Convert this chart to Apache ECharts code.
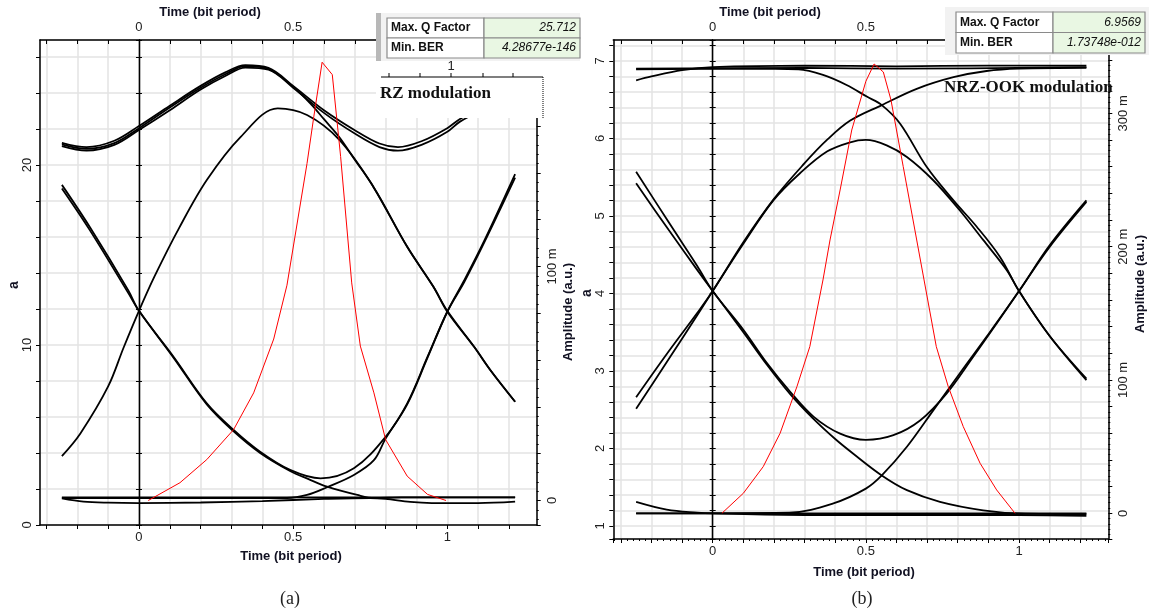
<!DOCTYPE html>
<html><head><meta charset="utf-8">
<script src="https://cdn.jsdelivr.net/npm/echarts@6/dist/echarts.min.js"></script>
<style>html,body{margin:0;padding:0;background:#fff}#c{width:1149px;height:614px}</style>
</head><body><div id="c"></div>
<script>
// ---------------- Panel (a): RZ modulation eye diagram ----------------
const rzTop1 = [[-0.25,21.24],[-0.17,21.0],[-0.08,21.35],[0,22.17],[0.1,23.3],[0.2,24.4],[0.28,25.15],[0.345,25.55],[0.42,25.4],[0.5,24.4],[0.6,23.05],[0.7,21.94],[0.78,21.2],[0.84,21.0],[0.92,21.35],[1.0,22.05],[1.04,22.55],[1.12,23.3],[1.22,24.0]];
const rzTop2 = [[-0.25,21.05],[-0.17,20.8],[-0.08,21.12],[0,21.95],[0.1,23.05],[0.2,24.2],[0.28,24.95],[0.345,25.42],[0.42,25.3],[0.5,24.3],[0.6,22.9],[0.7,21.75],[0.78,21.0],[0.84,20.8],[0.92,21.15],[1.0,21.85],[1.04,22.4],[1.12,23.1],[1.22,23.8]];
const rzTopFall = [[-0.25,21.15],[-0.17,20.9],[-0.08,21.22],[0,22.05],[0.1,23.2],[0.2,24.3],[0.28,25.05],[0.345,25.5],[0.42,25.35],[0.5,24.35],[0.56,23.35],[0.6,22.55],[0.65,21.55],[0.7,20.3],[0.76,18.8],[0.87,15.46],[0.955,13.24],[1.0,11.9],[1.087,9.9],[1.14,8.6],[1.22,6.85]];
const rzPulse = [[-0.25,3.83],[-0.19,5.09],[-0.1,7.7],[-0.05,9.85],[0,11.9],[0.05,13.8],[0.13,16.5],[0.22,19.17],[0.33,21.57],[0.45,23.15],[0.545,22.78],[0.65,21.4],[0.76,18.8],[0.87,15.46],[0.955,13.24],[1.0,11.85],[1.087,9.9],[1.14,8.6],[1.22,6.85]];
const rzDip = [[-0.25,18.9],[-0.16,16.57],[-0.035,13.05],[0,11.9],[0.112,9.35],[0.22,6.76],[0.307,5.28],[0.393,4.07],[0.49,3.06],[0.589,2.59],[0.697,3.15],[0.8,4.9],[0.87,6.76],[0.936,9.35],[1.0,11.85],[1.055,13.6],[1.12,15.8],[1.22,19.5]];
const rzFall = [[-0.25,18.7],[-0.16,16.4],[-0.035,12.9],[0,11.9],[0.112,9.3],[0.22,6.7],[0.307,5.2],[0.393,4.0],[0.49,3.0],[0.55,2.55],[0.61,2.13],[0.708,1.67],[0.762,1.5],[0.85,1.53],[1.0,1.54],[1.22,1.54]];
const rzRise = [[-0.25,1.5],[0.2,1.5],[0.48,1.5],[0.545,1.67],[0.61,2.1],[0.697,2.78],[0.762,3.6],[0.8,4.8],[0.87,6.7],[0.936,9.3],[1.0,11.85],[1.055,13.5],[1.12,15.7],[1.22,19.3]];
const rzZero1 = [[-0.25,1.54],[1.22,1.54]];
const rzZero2 = [[-0.25,1.48],[-0.18,1.3],[-0.1,1.24],[0,1.22],[0.2,1.25],[0.4,1.33],[0.6,1.45],[0.75,1.5],[0.8,1.45],[0.88,1.28],[0.95,1.22],[1.1,1.22],[1.22,1.3]];
const rzPower = [[0.03,0],[0.133,0.0076],[0.22,0.0175],[0.307,0.0303],[0.372,0.046],[0.437,0.069],[0.48,0.092],[0.545,0.144],[0.567,0.164],[0.594,0.1873],[0.627,0.182],[0.654,0.147],[0.69,0.093],[0.718,0.066],[0.762,0.046],[0.8,0.026],[0.87,0.0104],[0.936,0.0026],[0.996,0]];

// ---------------- Panel (b): NRZ-OOK modulation eye diagram ----------------
const nrzOne1 = [[-0.25,6.9],[0.3,6.91],[0.6,6.9],[1.22,6.92]];
const nrzOne2 = [[-0.25,6.75],[-0.2,6.8],[-0.1,6.88],[0,6.92],[0.3,6.94],[0.6,6.93],[0.9,6.94],[1.22,6.94]];
const nrzFallTop = [[-0.25,6.89],[0.1,6.9],[0.28,6.89],[0.36,6.82],[0.437,6.69],[0.503,6.54],[0.552,6.43],[0.612,6.19],[0.699,5.63],[0.786,5.2],[0.862,4.86],[0.938,4.47],[1.0,4.03],[1.1,3.45],[1.22,2.88]];
const nrzPulse = [[-0.25,2.51],[-0.144,3.15],[-0.05,3.72],[0,4.03],[0.1,4.64],[0.198,5.2],[0.285,5.55],[0.373,5.83],[0.449,5.95],[0.5,5.98],[0.568,5.91],[0.634,5.76],[0.72,5.46],[0.807,5.07],[0.883,4.69],[0.96,4.3],[1.0,4.03],[1.1,3.45],[1.22,2.9]];
const nrzRise = [[-0.25,2.66],[-0.144,3.25],[-0.05,3.75],[0,4.03],[0.1,4.66],[0.2,5.22],[0.3,5.68],[0.373,5.98],[0.449,6.23],[0.552,6.43],[0.666,6.64],[0.786,6.79],[0.894,6.87],[1.0,6.9],[1.22,6.91]];
const nrzDip = [[-0.25,5.57],[-0.144,4.92],[-0.05,4.35],[0,4.03],[0.1,3.53],[0.177,3.1],[0.253,2.73],[0.329,2.41],[0.416,2.19],[0.5,2.11],[0.59,2.17],[0.677,2.36],[0.764,2.71],[0.85,3.18],[0.927,3.61],[1.0,4.03],[1.1,4.6],[1.22,5.18]];
const nrzFall = [[-0.25,5.42],[-0.144,4.82],[-0.05,4.3],[0,4.03],[0.1,3.5],[0.177,3.08],[0.253,2.7],[0.329,2.38],[0.4,2.12],[0.459,1.93],[0.552,1.65],[0.634,1.46],[0.742,1.31],[0.883,1.2],[1.0,1.16],[1.22,1.15]];
const nrzRiseLow = [[-0.25,1.16],[0.25,1.17],[0.394,1.29],[0.5,1.48],[0.552,1.65],[0.634,2.02],[0.72,2.49],[0.807,2.97],[0.894,3.44],[1.0,4.03],[1.1,4.62],[1.22,5.2]];
const nrzZero1 = [[-0.25,1.16],[1.22,1.16]];
const nrzZero2 = [[-0.25,1.31],[-0.15,1.21],[-0.05,1.17],[0,1.16],[0.3,1.14],[0.7,1.14],[1.0,1.14],[1.22,1.13]];
const nrzPower = [[0.03,0],[0.1,0.015],[0.165,0.035],[0.22,0.06],[0.275,0.095],[0.317,0.125],[0.36,0.175],[0.383,0.205],[0.416,0.2425],[0.454,0.2875],[0.5,0.324],[0.527,0.337],[0.557,0.331],[0.582,0.31],[0.622,0.26],[0.66,0.2125],[0.69,0.175],[0.73,0.125],[0.769,0.095],[0.818,0.065],[0.873,0.0375],[0.927,0.0175],[0.987,0]];

// ---------------- tick labels / texts ----------------
const timeLabels = [0, 0.5, 1];
const rzLeftLabels = [0, 10, 20];
const nrzLeftLabels = [1, 2, 3, 4, 5, 6, 7];
const ampLabelsA = [[0, '0'], [0.1, '100 m']];
const ampLabelsB = [[0, '0'], [0.1, '100 m'], [0.2, '200 m'], [0.3, '300 m']];
const tableA = [['Max. Q Factor', '25.712'], ['Min. BER', '4.28677e-146']];
const tableB = [['Max. Q Factor', '6.9569'], ['Min. BER', '1.73748e-012']];
const timeTitle = 'Time (bit period)';
const ampTitle = 'Amplitude (a.u.)';

const SANS = '"Liberation Sans", Arial, sans-serif';
const SERIF = '"Liberation Serif", "Times New Roman", serif';
const near = (v, arr) => arr.some(a => Math.abs(v - a) < 1e-6);

function xAx(grid, pos, min, max, showSplit, minor) {
  return {
    type: 'value', gridIndex: grid, position: pos, min: min, max: max, splitNumber: 16,
    axisLine: { show: true, onZero: false, lineStyle: { color: '#000', width: 1.5 } },
    axisTick: { show: true, inside: pos === 'top', length: 4, lineStyle: { color: '#000' } },
    minorTick: { show: !!minor, splitNumber: 5, length: 2, lineStyle: { color: '#000' } },
    axisLabel: { show: true, margin: 6, fontFamily: SANS, fontSize: 13, color: '#222', showMinLabel: false, showMaxLabel: false,
      formatter: v => near(v, timeLabels) ? String(Math.round(v * 10) / 10) : '' },
    splitLine: { show: showSplit, lineStyle: { color: '#e3e3e3', width: 1.5 } }
  };
}
function yLeft(grid, min, max, extra, labels) {
  return Object.assign({
    type: 'value', gridIndex: grid, position: 'left', min: min, max: max,
    axisLine: { show: true, onZero: false, lineStyle: { color: '#000', width: 1.5 } },
    axisTick: { show: true, length: 4, lineStyle: { color: '#000' } },
    axisLabel: { show: true, rotate: 90, margin: 6, fontFamily: SANS, fontSize: 13, color: '#222', showMinLabel: true, showMaxLabel: false,
      formatter: v => near(v, labels) ? String(Math.round(v)) : '' },
    splitLine: { show: true, lineStyle: { color: '#e3e3e3', width: 1.5 } }
  }, extra);
}
function yZero(grid, min, max, extra, inside) {
  return Object.assign({
    type: 'value', gridIndex: grid, position: 'left', min: min, max: max,
    axisLine: { show: true, onZero: true, lineStyle: { color: '#000', width: 1.3 } },
    axisTick: { show: true, inside: inside, length: 3, lineStyle: { color: '#000' } },
    axisLabel: { show: false }, splitLine: { show: false }
  }, extra);
}
function yAmp(grid, min, max, splitNumber, labels) {
  return {
    type: 'value', gridIndex: grid, position: 'right', min: min, max: max, splitNumber: splitNumber,
    axisLine: { show: true, onZero: false, lineStyle: { color: '#000', width: 1.5 } },
    axisTick: { show: true, length: 4, lineStyle: { color: '#000' } },
    minorTick: { show: true, splitNumber: 5, length: 2, lineStyle: { color: '#000' } },
    axisLabel: { show: true, rotate: 90, margin: 9, fontFamily: SANS, fontSize: 13, color: '#222', showMinLabel: false, showMaxLabel: false,
      formatter: v => { const f = labels.find(l => Math.abs(l[0] - v) < 1e-6); return f ? f[1] : ''; } },
    splitLine: { show: false }
  };
}

function black(data, xi, yi, w) {
  return { type: 'line', data: data, xAxisIndex: xi, yAxisIndex: yi, showSymbol: false, smooth: 0.35,
    lineStyle: { color: '#000', width: w || 1.8 }, silent: true, animation: false, z: 3 };
}
function red(data, xi, yi) {
  return { type: 'line', data: data, xAxisIndex: xi, yAxisIndex: yi, showSymbol: false, smooth: false,
    lineStyle: { color: '#ff0000', width: 1 }, silent: true, animation: false, z: 4 };
}

function txt(x, y, text, opt) {
  return Object.assign({ type: 'text', x: x, y: y, z: 101, silent: true,
    style: Object.assign({ text: text, fontFamily: SANS, fontSize: 13, fontWeight: 'bold', fill: '#111122', align: 'center', verticalAlign: 'middle' }, (opt && opt.style) || {}) },
    opt && opt.rotation ? { rotation: opt.rotation } : {});
}
function rect(x, y, w, h, fill, stroke, lw) {
  return { type: 'rect', z: 100, silent: true, shape: { x: x, y: y, width: w, height: h },
    style: { fill: fill, stroke: stroke || null, lineWidth: lw || 1 } };
}
function table(x0, y0, wl, wv, rh, rows) {
  const els = [];
  rows.forEach((r, i) => {
    const y = y0 + i * rh;
    els.push(rect(x0, y, wl, rh, '#ffffff', '#8a8a8a', 1.2));
    els.push(rect(x0 + wl, y, wv, rh, '#e9f7e3', '#8a8a8a', 1.2));
    els.push(txt(x0 + 4, y + rh / 2, r[0], { style: { align: 'left', fontSize: 12, fill: '#111' } }));
    els.push(txt(x0 + wl + wv - 4, y + rh / 2, r[1], { style: { align: 'right', fontSize: 12, fontWeight: 'normal', fontStyle: 'italic', fill: '#111' } }));
  });
  return els;
}

const R90 = Math.PI / 2;
const graphics = [].concat(
  // panel (a) overlays
  [rect(376, 40, 172, 78, '#ffffff'),
   rect(376, 13, 204, 48, '#f2f2f2'),
   rect(376, 13, 5, 48, '#b8b8b8'),
   { type: 'line', z: 101, silent: true, shape: { x1: 381, y1: 77, x2: 543, y2: 77 }, style: { stroke: '#000', lineWidth: 1.2 } },
   { type: 'line', z: 101, silent: true, shape: { x1: 543, y1: 77, x2: 543, y2: 118 }, style: { stroke: '#000', lineWidth: 1, lineDash: [1, 1] } },
   txt(451, 66, '1', { style: { fontWeight: 'normal', fontSize: 13, fill: '#222' } }),
   txt(380, 94, 'RZ modulation', { style: { align: 'left', fontFamily: SERIF, fontSize: 17, fill: '#111' } })],
  [389, 420, 451, 483, 513].map(x => ({ type: 'line', z: 101, silent: true, shape: { x1: x, y1: 73, x2: x, y2: 77 }, style: { stroke: '#000', lineWidth: 1 } })),
  table(387, 18, 97, 96, 20, tableA),
  // panel (b) overlays
  [rect(945, 7, 204, 48, '#f2f2f2')],
  table(956, 12, 97, 92, 20.5, tableB),
  [txt(944, 88, 'NRZ-OOK modulation', { style: { align: 'left', fontFamily: SERIF, fontSize: 17, fill: '#111' } })],
  // axis titles
  [txt(291, 556, timeTitle), txt(210, 12, timeTitle), txt(864, 572, timeTitle), txt(770, 12, timeTitle),
   txt(14, 285, 'a', { rotation: R90, style: { fontSize: 14 } }),
   txt(587, 293, 'a', { rotation: R90, style: { fontSize: 14 } }),
   txt(568, 312, ampTitle, { rotation: R90 }),
   txt(1140, 284, ampTitle, { rotation: R90 }),
   txt(290, 599, '(a)', { style: { fontFamily: SERIF, fontWeight: 'normal', fontSize: 18, fill: '#222' } }),
   txt(862, 599, '(b)', { style: { fontFamily: SERIF, fontWeight: 'normal', fontSize: 18, fill: '#222' } })]
);

const option = {
  backgroundColor: '#ffffff',
  animation: false,
  grid: [
    { left: 40, top: 40, width: 496.7, height: 485, containLabel: false, outerBoundsMode: 'none', show: false },
    { left: 613.3, top: 40, width: 495, height: 499, containLabel: false, outerBoundsMode: 'none', show: false }
  ],
  xAxis: [
    xAx(0, 'bottom', -0.321, 1.29, true, false),
    xAx(0, 'top', -0.321, 1.29, false, false),
    xAx(1, 'bottom', -0.3245, 1.2915, true, true),
    xAx(1, 'top', -0.3245, 1.2915, false, false)
  ],
  yAxis: [
    yLeft(0, 0, 26.95, { interval: 2 }, rzLeftLabels),
    yZero(0, 0, 26.95, { interval: 2 }, false),
    yZero(0, 0, 26.95, { interval: 2 }, true),
    yAmp(0, -0.01047, 0.1968, 10, ampLabelsA),
    yLeft(1, 0.83, 7.27, { splitNumber: 32 }, nrzLeftLabels),
    yZero(1, 0.83, 7.27, { splitNumber: 32 }, false),
    yZero(1, 0.83, 7.27, { splitNumber: 32 }, true),
    yAmp(1, -0.0193, 0.355, 18, ampLabelsB)
  ],
  series: [
    black(rzZero1, 0, 0), black(rzZero2, 0, 0),
    black(rzTop1, 0, 0), black(rzTop2, 0, 0), black(rzTopFall, 0, 0),
    black(rzPulse, 0, 0), black(rzDip, 0, 0), black(rzFall, 0, 0), black(rzRise, 0, 0),
    red(rzPower, 0, 3),
    black(nrzZero1, 2, 4), black(nrzZero2, 2, 4),
    black(nrzOne1, 2, 4), black(nrzOne2, 2, 4), black(nrzFallTop, 2, 4),
    black(nrzPulse, 2, 4), black(nrzRise, 2, 4), black(nrzDip, 2, 4), black(nrzFall, 2, 4), black(nrzRiseLow, 2, 4),
    red(nrzPower, 2, 7)
  ],
  graphic: { elements: graphics }
};

const chart = echarts.init(document.getElementById('c'), null, { renderer: 'canvas' });
chart.setOption(option);
</script></body></html>
